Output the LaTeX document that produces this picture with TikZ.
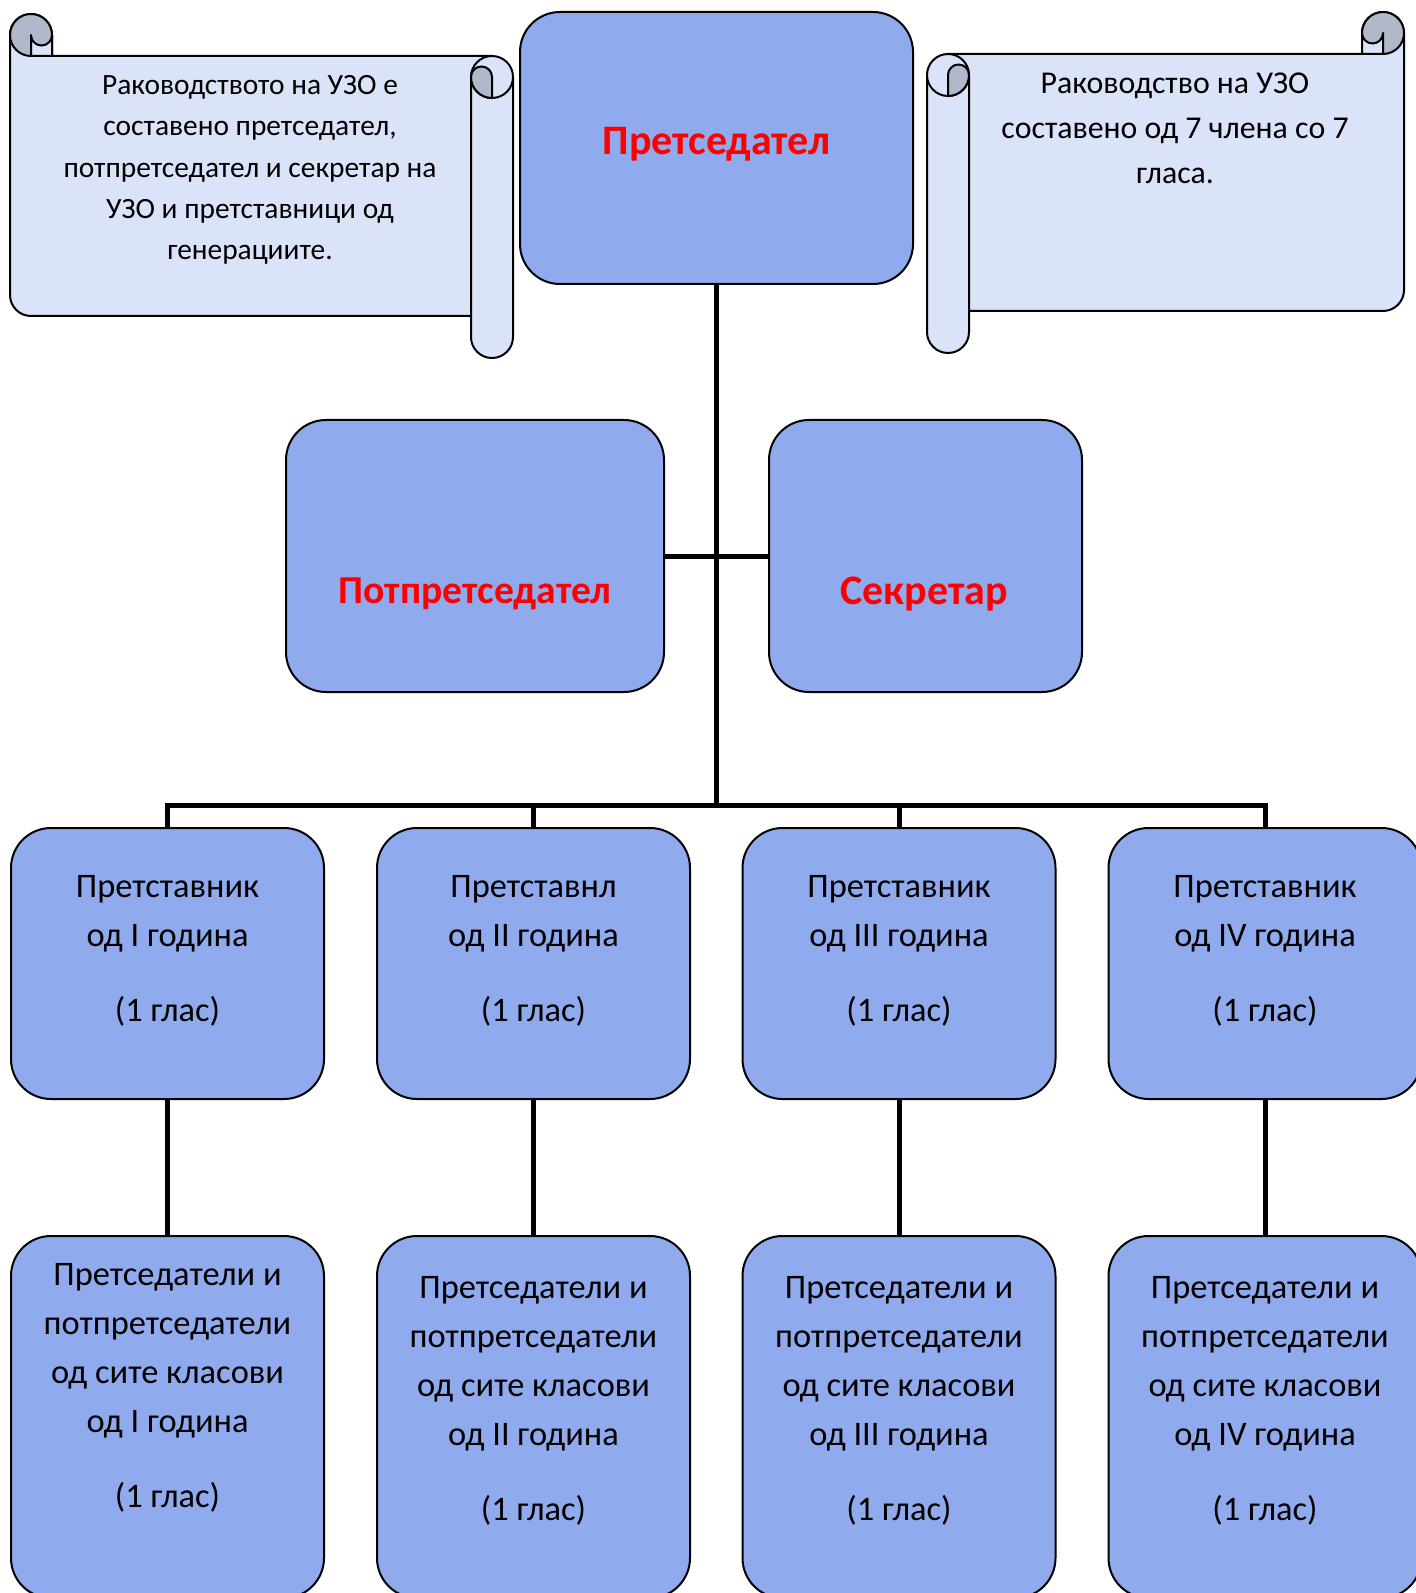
\documentclass[tikz,border=0pt]{standalone}
\usepackage{fontspec}
\setmainfont{Carlito}
\usepackage{tikz}
\usetikzlibrary{positioning}

\definecolor{boxblue}{RGB}{143,170,237}
\definecolor{scrollblue}{RGB}{218,227,248}
\definecolor{curlgray}{RGB}{176,184,202}

% scroll sheet: #1 left, #2 top, #3 right, #4 bottom (pixel units)
\newcommand\drawscroll[4]{%
  \draw[scrollline, fill=scrollblue] ({#1+21},{#2+42}) -- ({#3-42},{#2+42}) -- ({#3-42},{#2+21})
    arc[start angle=180, end angle=360, radius=21] -- ({#3},{#4-63})
    arc[start angle=0, end angle=90, radius=21] -- ({#1+21},{#4-42}) -- cycle;
  \fill[curlgray] ({#3-21},{#2+21}) circle[radius=21];
  \draw[scrollline, fill=scrollblue] ({#3-42},{#2+21}) arc[start angle=180, end angle=0, radius=10.5]
    -- ({#3-21},{#2+42}) -- ({#3-42},{#2+42}) -- cycle;
  \draw[scrollline] ({#3},{#2+21}) arc[start angle=0, end angle=90, radius=21];
  \draw[scrollline] ({#3-42},{#2+21}) arc[start angle=180, end angle=360, radius=21];
  \draw[scrollline, fill=scrollblue] ({#1},{#2+63}) -- ({#1},{#4-21})
    arc[start angle=180, end angle=0, radius=21] -- ({#1+42},{#2+63});
  \draw[scrollline, fill=scrollblue] ({#1+21},{#2+63}) circle[radius=21];
  \draw[scrollline, fill=curlgray] ({#1+21},{#2+63}) arc[start angle=180, end angle=360, radius=10.5]
    arc[start angle=0, end angle=90, radius=21] -- cycle;
}

\begin{document}
\begin{tikzpicture}[x=0.5pt, y=-0.5pt,
    scrollline/.style={line width=1pt, line join=round},
    box/.style={draw=black, line width=1pt, fill=boxblue, rounded corners=20pt, inner sep=0pt},
    title/.style={text=red, font=\fontsize{21}{24}\selectfont\bfseries},
    rowtxt/.style={align=center, font=\fontsize{17.2}{24.5}\selectfont},
    conn/.style={line width=2.5pt}]
  \useasboundingbox (0,0) rectangle (1416,1593);
  \clip (0,0) rectangle (1416,1593);

  \begin{scope}[xscale=-1]
    \drawscroll{-513}{14}{-10}{358}
  \end{scope}
  \drawscroll{927}{12}{1404}{353}
  \node[align=center, font=\fontsize{14.7}{20.6}\selectfont] (leftnote) at (250,170)
    {Раководството на УЗО е\\составено претседател,\\потпретседател и секретар на\\УЗО и претставници од\\генерациите.};
  \node[align=center, font=\fontsize{15.9}{22.5}\selectfont] (rightnote) at (1175,128)
    {Раководство на УЗО\\составено од 7 члена со 7\\гласа.};

  \node[box, minimum width=196.5pt, minimum height=136pt] (chair) at (716.5,148) {};
  \node[box, minimum width=189pt, minimum height=136pt] (vice) at (475,556) {};
  \node[box, minimum width=156.5pt, minimum height=136pt] (sec) at (925.5,556) {};
  \node[title] (chairtxt) at (716.5,144) {Претседател};
  \node[title, font=\fontsize{19.8}{24}\selectfont\bfseries] (vicetxt) at (475,594) {Потпретседател};
  \node[title] (sectxt) at (924,594) {Секретар};

  \foreach \i/\x in {1/167.5, 2/533.5, 3/899, 4/1265} {
    \node[box, minimum width=156.5pt, minimum height=135.5pt] (r\i) at (\x,963.5) {};
    \node[box, minimum width=156.5pt, minimum height=181pt] (g\i) at (\x,1417) {};
  }
  \node[rowtxt] (r1txt) at (167.5,951) {Претставник\\од I година\\[13pt](1 глас)};
  \node[rowtxt] (r2txt) at (533.5,951) {Претставнл\\од II година\\[13pt](1 глас)};
  \node[rowtxt] (r3txt) at (899,951) {Претставник\\од III година\\[13pt](1 глас)};
  \node[rowtxt] (r4txt) at (1265,951) {Претставник\\од IV година\\[13pt](1 глас)};
  \node[rowtxt] (g1txt) at (167.5,1388) {Претседатели и\\потпретседатели\\од сите класови\\од I година\\[13pt](1 глас)};
  \node[rowtxt] (g2txt) at (533.5,1401) {Претседатели и\\потпретседатели\\од сите класови\\од II година\\[13pt](1 глас)};
  \node[rowtxt] (g3txt) at (899,1401) {Претседатели и\\потпретседатели\\од сите класови\\од III година\\[13pt](1 глас)};
  \node[rowtxt] (g4txt) at (1265,1401) {Претседатели и\\потпретседатели\\од сите класови\\од IV година\\[13pt](1 глас)};

  \coordinate (bus) at (716.5,805);
  \draw[conn] (chair) -- (bus);
  \draw[conn] (vice) -- (sec);
  \foreach \i in {1,...,4} {
    \draw[conn] (r\i.north) |- (bus);
    \draw[conn] (r\i) -- (g\i);
  }
\end{tikzpicture}
\end{document}
